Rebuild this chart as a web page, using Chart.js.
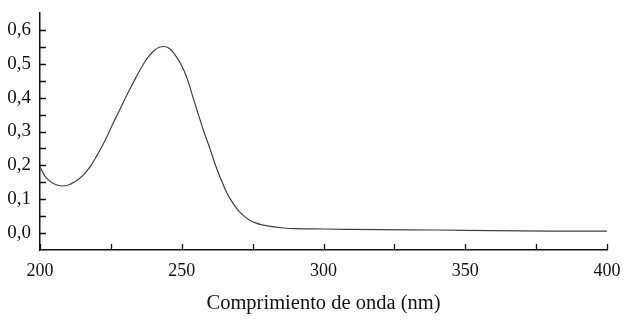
<!DOCTYPE html>
<html>
<head>
<meta charset="utf-8">
<script src="https://cdn.jsdelivr.net/npm/chart.js@4.4.0/dist/chart.umd.min.js"></script>
<style>
	html, body { margin: 0; padding: 0; background: #fff; }
	#wrap { width: 632px; height: 325px; }
</style>
</head>
<body>
<div id="wrap"><canvas id="espectro"></canvas></div>
<script>

// absorbance spectrum
var onda = [200, 202, 204, 206, 208, 210, 212, 214, 216, 218, 220, 222, 224, 226, 228, 230, 232, 234, 236, 238, 240, 242, 244, 246, 248, 250, 252, 254, 256, 258, 260, 262, 264, 266, 268, 270, 272, 274, 276, 278, 282, 286, 290, 300, 320, 340, 360, 380, 400];
var absorbancia = [0.195, 0.165, 0.150, 0.142, 0.139, 0.142, 0.150, 0.162, 0.178, 0.200, 0.228, 0.258, 0.292, 0.328, 0.362, 0.397, 0.430, 0.462, 0.492, 0.518, 0.537, 0.549, 0.551, 0.543, 0.522, 0.494, 0.454, 0.400, 0.346, 0.295, 0.248, 0.198, 0.155, 0.117, 0.089, 0.066, 0.050, 0.038, 0.030, 0.025, 0.019, 0.015, 0.013, 0.012, 0.010, 0.009, 0.007, 0.006, 0.006];

var ticksX = [200, 225, 250, 275, 300, 325, 350, 375, 400];
var ticksY = [0, 0.05, 0.1, 0.15, 0.2, 0.25, 0.3, 0.35, 0.4, 0.45, 0.5, 0.55, 0.6];
var rotulosY = [0, 0.1, 0.2, 0.3, 0.4, 0.5, 0.6];

var puntos = onda.map(function(x, i){ return { x: x, y: absorbancia[i] }; });

var fonte = "'Liberation Serif', 'DejaVu Serif', serif";

// ticks pointing inward, like the original
var tickInterno = {
	id: 'tickInterno',
	afterDraw: function(chart){
		var ctx = chart.ctx;
		var sx = chart.scales.x, sy = chart.scales.y;
		var area = chart.chartArea;
		ctx.save();
		ctx.strokeStyle = '#111';
		ctx.lineWidth = 1.3;
		ctx.beginPath();
		ticksX.forEach(function(v){
			var px = Math.round(sx.getPixelForValue(v)) + 0.5;
			ctx.moveTo(px, area.bottom);
			ctx.lineTo(px, area.bottom - 6);
		});
		ticksY.forEach(function(v){
			var py = Math.round(sy.getPixelForValue(v)) + 0.5;
			ctx.moveTo(area.left, py);
			ctx.lineTo(area.left + 6, py);
		});
		ctx.stroke();
		ctx.restore();
	}
};

var ctx = document.getElementById('espectro');

var grafico = new Chart(ctx, {
	type: 'line',
	data: {
		datasets: [{
			data: puntos,
			borderColor: '#404040',
			borderWidth: 1.2,
			pointRadius: 0,
			fill: false,
			cubicInterpolationMode: 'monotone'
		}]
	},
	options: {
		responsive: true,
		maintainAspectRatio: false,
		animation: false,
		layout: { padding: { top: 13, right: 25, bottom: 0, left: 0 } },
		plugins: { legend: { display: false }, tooltip: { enabled: false } },
		scales: {
			x: {
				type: 'linear',
				min: 200,
				max: 400,
				afterFit: function(s){ s.height = 75; },
				grid: { display: true, drawOnChartArea: false, drawTicks: false, color: 'rgba(0,0,0,0)' },
				border: { display: true, color: '#111', width: 1.5 },
				ticks: {
					stepSize: 25,
					padding: 10,
					color: '#111',
					font: { family: fonte, size: 18 },
					maxRotation: 0,
					autoSkip: false,
					callback: function(v){ return (v % 50 === 0) ? String(v) : ''; }
				},
				title: {
					display: true,
					text: 'Comprimiento de onda (nm)',
					color: '#111',
					font: { family: fonte, size: 20.5 },
					padding: { top: 0, bottom: 9 }
				}
			},
			y: {
				min: -0.05,
				max: 0.65,
				afterFit: function(s){ s.width = 40; s.paddingTop = 0; s.paddingBottom = 0; },
				afterBuildTicks: function(s){
					s.ticks = rotulosY.map(function(v){ return { value: v }; });
				},
				grid: { display: true, drawOnChartArea: false, drawTicks: false, color: 'rgba(0,0,0,0)' },
				border: { display: true, color: '#111', width: 1.5 },
				ticks: {
					padding: 9,
					color: '#111',
					font: { family: fonte, size: 19 },
					callback: function(v){ return v.toFixed(1).replace('.', ','); }
				}
			}
		}
	},
	plugins: [tickInterno]
});

</script>
</body>
</html>
